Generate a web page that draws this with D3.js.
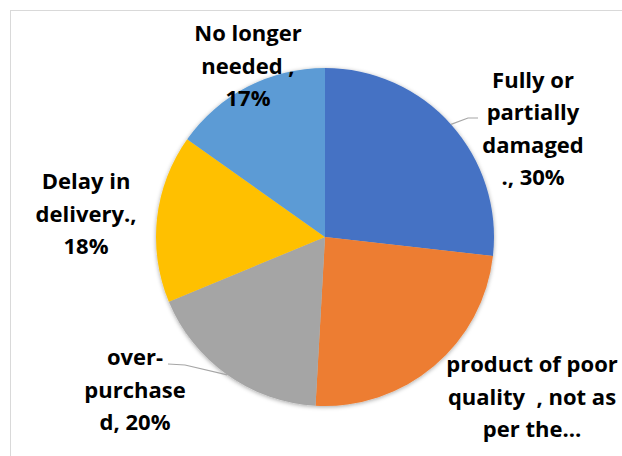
<!DOCTYPE html>
<html lang="en">
<head>
    <meta charset="UTF-8">
    <title>Return reasons pie</title>
    <style>
        body { margin: 0; background: #fff; }
        svg { display: block; }
        .lbl { font-family: "Open Sans", Lato, sans-serif; font-weight: bold; font-size: 22px; fill: #000; }
    </style>
</head>
<body>
    <div id="chart"></div>
    <script src="https://d3js.org/d3.v7.min.js"></script>
    <script>
        // data (the orange share has no printed value, 27 fits its angle)
        var categories = ["Fully or partially damaged .", "product of poor quality  , not as per the…", "over-purchased", "Delay in delivery.", "No longer needed "];
        var values = [30, 27, 20, 18, 17];
        var labelLines = [
            ["Fully or", "partially", "damaged", "., 30%"],
            ["product of poor", "quality  , not as", "per the…"],
            ["over-", "purchase", "d, 20%"],
            ["Delay in", "delivery.,", "18%"],
            ["No longer", "needed ,", "17%"]
        ];
        var colors = ["#4472C4", "#ED7D31", "#A5A5A5", "#FFC000", "#5B9BD5"];

        var width = 622, height = 456;
        var cx = 325, cy = 237, radius = 169;
        // centre of each label block, relative to the pie centre
        var labelOffset = [[208, -108], [207, 160], [-190, 153], [-239, -23], [-77, -171]];
        var lineH = 32.5;

        var svg = d3.select("#chart").append("svg")
            .attr("width", width)
            .attr("height", height);

        // chart frame
        svg.append("rect")
            .attr("x", 10.5).attr("y", 10.5)
            .attr("width", width).attr("height", height)
            .attr("fill", "#fff")
            .attr("stroke", "#d9d9d9");

        var defs = svg.append("defs");
        var f = defs.append("filter").attr("id", "shadow")
            .attr("x", "-10%").attr("y", "-10%").attr("width", "120%").attr("height", "120%");
        f.append("feDropShadow")
            .attr("dx", 0).attr("dy", 1)
            .attr("stdDeviation", 2)
            .attr("flood-color", "#000").attr("flood-opacity", 0.35);

        var pie = d3.pie().sort(null).value(function(d) { return d; });
        var arc = d3.arc().innerRadius(0).outerRadius(radius);
        var arcs = pie(values);

        var g = svg.append("g").attr("transform", "translate(" + cx + "," + cy + ")");

        g.append("g").attr("filter", "url(#shadow)")
            .selectAll("path")
            .data(arcs)
            .enter()
            .append("path")
            .attr("d", arc)
            .attr("fill", function(d, i) { return colors[i]; });

        // leader lines for the two labels sitting away from their slice
        var leaders = [
            { i: 0, elbow: [143, -119], end: [153, -119] },
            { i: 2, elbow: [-140, 128], end: [-157, 127] }
        ];
        leaders.forEach(function(l) {
            var d = arcs[l.i];
            var a = (d.startAngle + d.endAngle) / 2;
            var p = [Math.sin(a) * radius, -Math.cos(a) * radius];
            g.append("polyline")
                .attr("points", [p, l.elbow, l.end].map(function(q) { return q.join(","); }).join(" "))
                .attr("fill", "none")
                .attr("stroke", "#a6a6a6")
                .attr("stroke-width", 1.2);
        });

        var labels = g.selectAll("text.lbl")
            .data(arcs)
            .enter()
            .append("text")
            .attr("class", "lbl")
            .attr("text-anchor", "middle")
            .attr("transform", function(d, i) {
                var o = labelOffset[i];
                var n = labelLines[i].length;
                return "translate(" + o[0] + "," + (o[1] - (n - 1) * lineH / 2 + 7.5) + ")";
            });

        labels.each(function(d, i) {
            var t = d3.select(this);
            labelLines[i].forEach(function(s, k) {
                t.append("tspan")
                    .attr("x", 0)
                    .attr("y", k * lineH)
                    .style("white-space", "pre")
                    .text(s);
            });
        });
    </script>
</body>
</html>
